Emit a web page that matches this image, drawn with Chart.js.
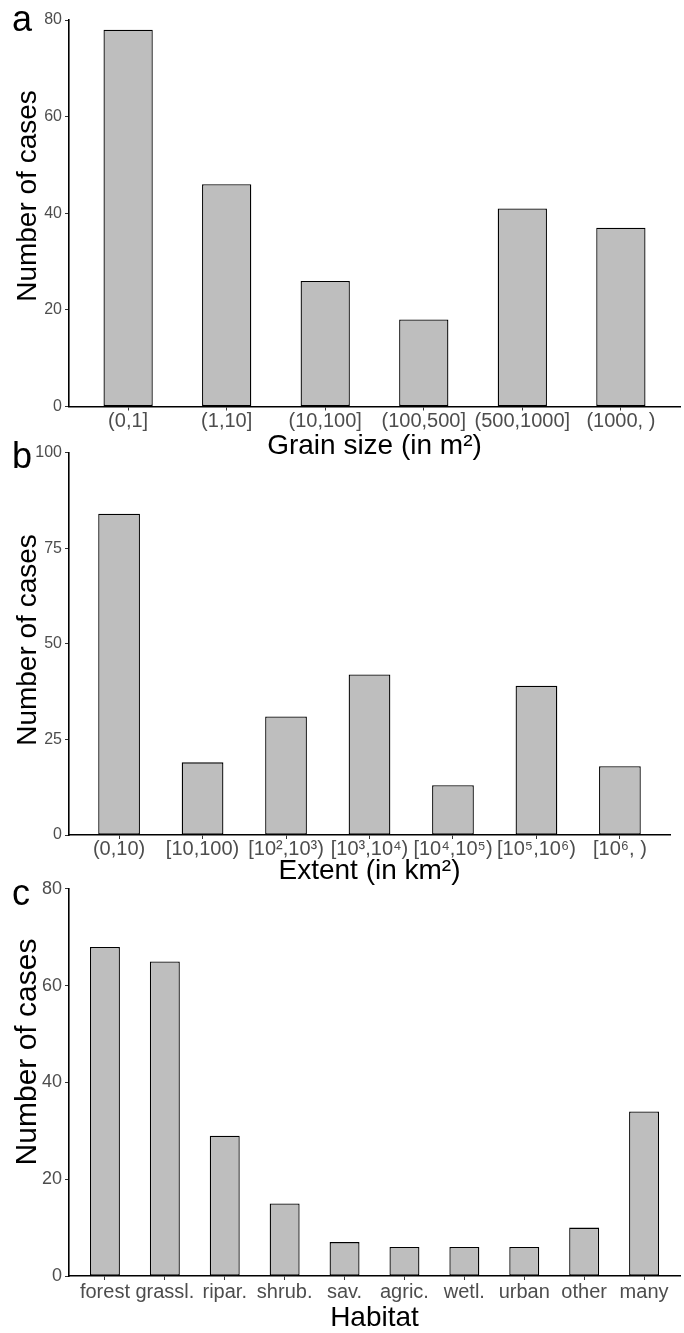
<!DOCTYPE html>
<html><head><meta charset="utf-8">
<script src="https://cdn.jsdelivr.net/npm/chart.js@4.4.1/dist/chart.umd.min.js"></script>
<style>
html,body{margin:0;padding:0;background:#fff;}
#wrap{position:relative;width:684px;height:1333px;overflow:hidden;background:#fff;}
.panel{position:absolute;left:0;width:684px;}
.letter{position:absolute;left:12px;font-family:'Liberation Sans',Arial,Helvetica,sans-serif;font-size:36px;line-height:1;color:#000;}
</style></head><body>
<div id="wrap">
  <div class="panel" style="top:0px;height:460px"><canvas id="ca"></canvas></div>
  <div class="panel" style="top:440px;height:445px"><canvas id="cb"></canvas></div>
  <div class="panel" style="top:875px;height:458px"><canvas id="cc"></canvas></div>
  <div class="letter" style="top:1px">a</div>
  <div class="letter" style="top:438px">b</div>
  <div class="letter" style="top:875px">c</div>
</div>
<script>
const grainLabels = ['(0,1]', '(1,10]', '(10,100]', '(100,500]', '(500,1000]', '(1000, )'];
const grainCounts = [78, 46, 26, 18, 41, 37];
const grainYTicks = [0, 20, 40, 60, 80];

const extentLabels = ['(0,10)', '[10,100)', '[10\u00B2,10\u00B3)', '[10\u00B3,10\u2074)', '[10\u2074,10\u2075)', '[10\u2075,10\u2076)', '[10\u2076, )'];
const extentCounts = [84, 19, 31, 42, 13, 39, 18];
const extentYTicks = [0, 25, 50, 75, 100];

const habitatLabels = ['forest', 'grassl.', 'ripar.', 'shrub.', 'sav.', 'agric.', 'wetl.', 'urban', 'other', 'many'];
const habitatCounts = [68, 65, 29, 15, 7, 6, 6, 6, 10, 34];
const habitatYTicks = [0, 20, 40, 60, 80];

const FAM = "'Liberation Sans', Arial, Helvetica, sans-serif";

const yTitlePlugin = {
  id: 'yTitle',
  afterDraw(chart, args, opts) {
    const ctx = chart.ctx;
    ctx.save();
    ctx.translate(opts.x, opts.y);
    ctx.rotate(-Math.PI / 2);
    ctx.font = opts.size + 'px ' + FAM;
    ctx.fillStyle = '#000';
    ctx.textAlign = 'center';
    ctx.textBaseline = 'middle';
    ctx.fillText(opts.text, 0, 0);
    ctx.restore();
  }
};

function makePanel(id, labels, counts, yTicks, xTitle, cfg) {
  const yMax = yTicks[yTicks.length - 1];
  return new Chart(document.getElementById(id), {
    type: 'bar',
    data: {
      datasets: [{
        data: counts.map((v, i) => ({x: i, y: v})),
        backgroundColor: '#bebebe',
        borderColor: '#000',
        borderWidth: 1.3,
        borderSkipped: false,
        barPercentage: 0.5,
        categoryPercentage: 1
      }]
    },
    plugins: [yTitlePlugin],
    options: {
      responsive: true,
      maintainAspectRatio: false,
      animation: false,
      events: [],
      layout: {padding: {top: cfg.top, right: cfg.right, left: 0, bottom: 0}},
      plugins: {
        legend: {display: false},
        tooltip: {enabled: false},
        yTitle: {text: 'Number of cases', x: 28, y: cfg.yTitleY, size: cfg.yTitleSize}
      },
      scales: {
        x: {
          type: 'linear',
          offset: false,
          min: -0.6,
          max: labels.length - 0.4,
          afterBuildTicks: s => { s.ticks = labels.map((_, i) => ({value: i})); },
          afterFit: s => { s.height = cfg.xh; },
          ticks: {
            callback: v => labels[v],
            color: '#4d4d4d',
            font: {family: FAM, size: cfg.xTick},
            padding: cfg.xTickPad,
            maxRotation: 0,
            autoSkip: false
          },
          grid: {display: true, offset: false, drawOnChartArea: false, drawTicks: true, tickLength: 4, color: '#333', lineWidth: 1},
          border: {display: true, color: '#000', width: 1.6},
          title: {display: true, text: xTitle, color: '#000', font: {family: FAM, size: 28, lineHeight: 1}, padding: {top: 0, bottom: cfg.xTitlePad}}
        },
        y: {
          min: 0,
          max: yMax,
          afterBuildTicks: s => { s.ticks = yTicks.map(v => ({value: v})); },
          afterFit: s => { s.width = 69; },
          ticks: {color: '#4d4d4d', font: {family: FAM, size: cfg.yTick}, padding: 3},
          grid: {display: true, drawOnChartArea: false, drawTicks: true, tickLength: 4, color: '#333', lineWidth: 1},
          border: {display: true, color: '#000', width: 1.6},
          title: {display: false}
        }
      }
    }
  });
}

makePanel('ca', grainLabels, grainCounts, grainYTicks, 'Grain size (in m\u00B2)',
  {top: 20, right: 4, xh: 53.5, xTick: 20, xTickPad: -1, yTick: 16, xTitlePad: 0, yTitleY: 196, yTitleSize: 28});
makePanel('cb', extentLabels, extentCounts, extentYTicks, 'Extent (in km\u00B2)',
  {top: 12, right: 14, xh: 50, xTick: 20, xTickPad: -2, yTick: 16, xTitlePad: 0, yTitleY: 200, yTitleSize: 28});
makePanel('cc', habitatLabels, habitatCounts, habitatYTicks, 'Habitat',
  {top: 12, right: 4, xh: 57, xTick: 20, xTickPad: 0, yTick: 18, xTitlePad: 1, yTitleY: 177, yTitleSize: 30});
</script>
</body></html>
